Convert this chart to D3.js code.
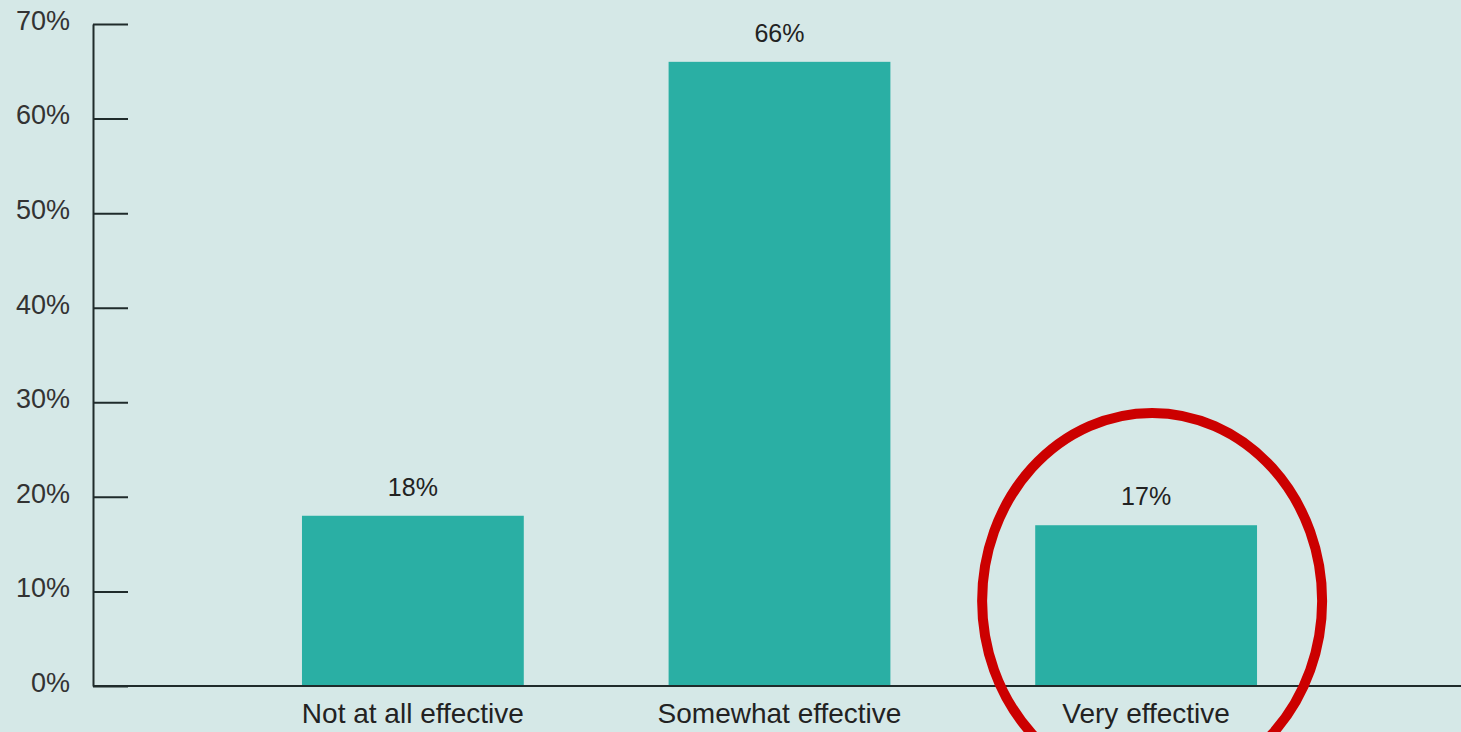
<!DOCTYPE html>
<html>
<head>
<meta charset="utf-8">
<script src="https://cdn.jsdelivr.net/npm/d3@7"></script>
<style>
  html, body { margin: 0; padding: 0; background: #d5e8e7; overflow: hidden; }
  svg { display: block; }
  text { font-family: "Liberation Sans", Arial, sans-serif; }
</style>
</head>
<body>
<svg id="chart" width="1461" height="732"></svg>
<script>
// Survey responses: perceived effectiveness
const categories = ["Not at all effective", "Somewhat effective", "Very effective"];
const shares = [0.18, 0.66, 0.17];
const yTicks = [0, 0.1, 0.2, 0.3, 0.4, 0.5, 0.6, 0.7];
const highlighted = "Very effective";

const W = 1461, H = 732;
const svg = d3.select("#chart");

svg.append("rect").attr("width", W).attr("height", H).attr("fill", "#d5e8e7");

const x = d3.scaleBand()
  .domain(categories)
  .range([93, 1466])
  .paddingInner(0.395)
  .paddingOuter(0.57);

const y = d3.scaleLinear().domain([0, 0.7]).range([686, 24]);

const fmt = d3.format(".0%");

// Bars
svg.append("g").selectAll("rect")
  .data(categories)
  .join("rect")
  .attr("x", d => x(d))
  .attr("width", x.bandwidth())
  .attr("y", (d, i) => y(shares[i]))
  .attr("height", (d, i) => y(0) - y(shares[i]))
  .attr("fill", "#2aafa4");

// Value labels above bars
svg.append("g").selectAll("text")
  .data(categories)
  .join("text")
  .attr("x", d => x(d) + x.bandwidth() / 2)
  .attr("y", (d, i) => y(shares[i]) - 20)
  .attr("text-anchor", "middle")
  .attr("font-size", 25)
  .attr("fill", "#222")
  .text((d, i) => fmt(shares[i]));

// Y axis with inward ticks
const yAxis = svg.append("g")
  .attr("transform", "translate(93,0)")
  .call(d3.axisLeft(y).tickValues(yTicks).tickFormat(fmt)
    .tickSizeInner(-35).tickSizeOuter(0).tickPadding(23));
yAxis.select(".domain").attr("stroke", "#1f2b2b").attr("stroke-width", 2);
yAxis.selectAll(".tick line").attr("stroke", "#1f2b2b").attr("stroke-width", 2);
yAxis.selectAll(".tick text")
  .attr("font-size", 27)
  .attr("fill", "#333")
  .attr("font-family", "'Liberation Sans', Arial, sans-serif")
  .attr("dy", "0.2em");

// X axis baseline and category labels
const xAxis = svg.append("g")
  .attr("transform", `translate(0,${y(0)})`)
  .call(d3.axisBottom(x).tickSize(0).tickPadding(17));
xAxis.select(".domain").remove();
xAxis.append("line")
  .attr("x1", 93).attr("x2", W)
  .attr("stroke", "#1f2b2b").attr("stroke-width", 2);
xAxis.selectAll(".tick text")
  .attr("font-size", 28)
  .attr("fill", "#222")
  .attr("font-family", "'Liberation Sans', Arial, sans-serif");

// Red ring around the highlighted category
const hx = x(highlighted) + x.bandwidth() / 2 + 6;
svg.append("ellipse")
  .attr("cx", hx)
  .attr("cy", y(0.09))
  .attr("rx", 170)
  .attr("ry", 188)
  .attr("fill", "none")
  .attr("stroke", "#cc0000")
  .attr("stroke-width", 10);
</script>
</body>
</html>
